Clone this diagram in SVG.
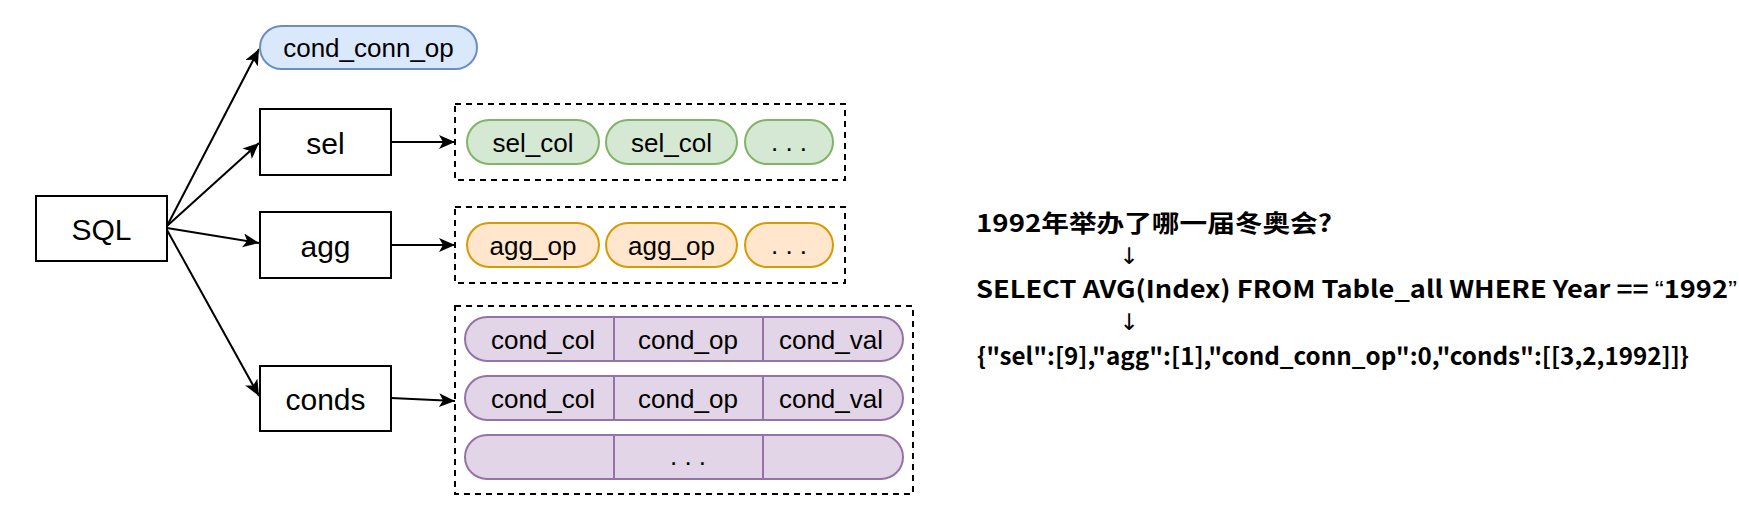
<svg xmlns="http://www.w3.org/2000/svg" width="1739" height="507" viewBox="0 0 1739 507">
<defs>
<marker id="arr" markerUnits="userSpaceOnUse" markerWidth="18" markerHeight="16" refX="16" refY="7" orient="auto">
<path d="M0,0 L16,7 L0,14 L4,7 Z" fill="#000"/>
</marker>
<style>
.box{fill:#fff;stroke:#000;stroke-width:2}
.dash{fill:none;stroke:#000;stroke-width:2;stroke-dasharray:6 5}
.lbl{font-family:"Liberation Sans",Arial,sans-serif;font-size:30px;fill:#000;text-anchor:middle}
.pt{font-family:"Liberation Sans",Arial,sans-serif;font-size:26px;fill:#000;text-anchor:middle}
.blue{fill:#dae8fc;stroke:#6c8ebf;stroke-width:2}
.green{fill:#d5e8d4;stroke:#82b366;stroke-width:2}
.orange{fill:#ffe6cc;stroke:#d79b00;stroke-width:2}
.purple{fill:#e1d5e7;stroke:#9673a6;stroke-width:2}
.div{stroke:#9673a6;stroke-width:2}
.edge{fill:none;stroke:#000;stroke-width:2;marker-end:url(#arr)}
.cn{font-family:"Noto Sans CJK SC","Liberation Sans",sans-serif;font-size:24px;font-weight:bold;fill:#000}
.q{font-family:"Liberation Sans",Arial,sans-serif;font-weight:normal}
.ar{font-family:"DejaVu Sans","Liberation Sans",sans-serif;font-size:23px;fill:#000;text-anchor:middle}
</style>
</defs>
<rect width="1739" height="507" fill="#fff"/>

<g id="connectors">
<line class="edge" x1="167" y1="226" x2="259" y2="49"/>
<line class="edge" x1="167" y1="226" x2="259" y2="143"/>
<line class="edge" x1="167" y1="228" x2="259" y2="243"/>
<line class="edge" x1="167" y1="230" x2="259" y2="396"/>
<line class="edge" x1="391" y1="142" x2="455" y2="142"/>
<line class="edge" x1="391" y1="245" x2="455" y2="245"/>
<line class="edge" x1="391" y1="398" x2="455" y2="401"/>
</g>

<g id="node-sql">
<rect class="box" x="36" y="196" width="131" height="65"/>
<text class="lbl" x="101.5" y="240">SQL</text>
</g>
<g id="node-cond-conn-op">
<rect class="blue" x="260" y="26" width="217" height="43" rx="21.5"/>
<text class="pt" x="368.5" y="57">cond_conn_op</text>
</g>
<g id="node-sel">
<rect class="box" x="260" y="109" width="131" height="66"/>
<text class="lbl" x="325.5" y="154">sel</text>
</g>
<g id="node-agg">
<rect class="box" x="260" y="212" width="131" height="66"/>
<text class="lbl" x="325.5" y="257">agg</text>
</g>
<g id="node-conds">
<rect class="box" x="260" y="366" width="131" height="65"/>
<text class="lbl" x="325.5" y="410">conds</text>
</g>

<g id="group-sel">
<rect class="dash" x="455" y="104" width="390" height="76"/>
<rect class="green" x="467" y="120" width="132" height="44" rx="22"/>
<text class="pt" x="533" y="152">sel_col</text>
<rect class="green" x="606" y="120" width="131" height="44" rx="22"/>
<text class="pt" x="671.5" y="152">sel_col</text>
<rect class="green" x="745" y="120" width="88" height="44" rx="22"/>
<text class="pt" x="789" y="151">. . .</text>
</g>

<g id="group-agg">
<rect class="dash" x="455" y="207" width="390" height="76"/>
<rect class="orange" x="467" y="223" width="132" height="44" rx="22"/>
<text class="pt" x="533" y="255">agg_op</text>
<rect class="orange" x="606" y="223" width="131" height="44" rx="22"/>
<text class="pt" x="671.5" y="255">agg_op</text>
<rect class="orange" x="745" y="223" width="88" height="44" rx="22"/>
<text class="pt" x="789" y="254">. . .</text>
</g>

<g id="group-conds">
<rect class="dash" x="455" y="306" width="458" height="188"/>
<g id="cond-row-1">
<rect class="purple" x="465" y="317" width="438" height="44" rx="22"/>
<line class="div" x1="614" y1="317" x2="614" y2="361"/>
<line class="div" x1="763" y1="317" x2="763" y2="361"/>
<text class="pt" x="543" y="349">cond_col</text>
<text class="pt" x="688" y="349">cond_op</text>
<text class="pt" x="831" y="349">cond_val</text>
</g>
<g id="cond-row-2">
<rect class="purple" x="465" y="376" width="438" height="44" rx="22"/>
<line class="div" x1="614" y1="376" x2="614" y2="420"/>
<line class="div" x1="763" y1="376" x2="763" y2="420"/>
<text class="pt" x="543" y="408">cond_col</text>
<text class="pt" x="688" y="408">cond_op</text>
<text class="pt" x="831" y="408">cond_val</text>
</g>
<g id="cond-row-3">
<rect class="purple" x="465" y="435" width="438" height="44" rx="22"/>
<line class="div" x1="614" y1="435" x2="614" y2="479"/>
<line class="div" x1="763" y1="435" x2="763" y2="479"/>
<text class="pt" x="688" y="465">. . .</text>
</g>
</g>

<g id="example-text">
<text class="cn" x="976" y="232" textLength="356" lengthAdjust="spacingAndGlyphs">1992年举办了哪一届冬奥会?</text>
<text class="ar" x="1129" y="264">↓</text>
<text class="cn" x="976" y="298" textLength="761" lengthAdjust="spacingAndGlyphs">SELECT AVG(Index) FROM Table_all WHERE Year == <tspan class="q">“</tspan>1992<tspan class="q">”</tspan></text>
<text class="ar" x="1129" y="330">↓</text>
<text class="cn" x="977" y="365" textLength="712" lengthAdjust="spacingAndGlyphs">{"sel":[9],"agg":[1],"cond_conn_op":0,"conds":[[3,2,1992]]}</text>
</g>
</svg>
